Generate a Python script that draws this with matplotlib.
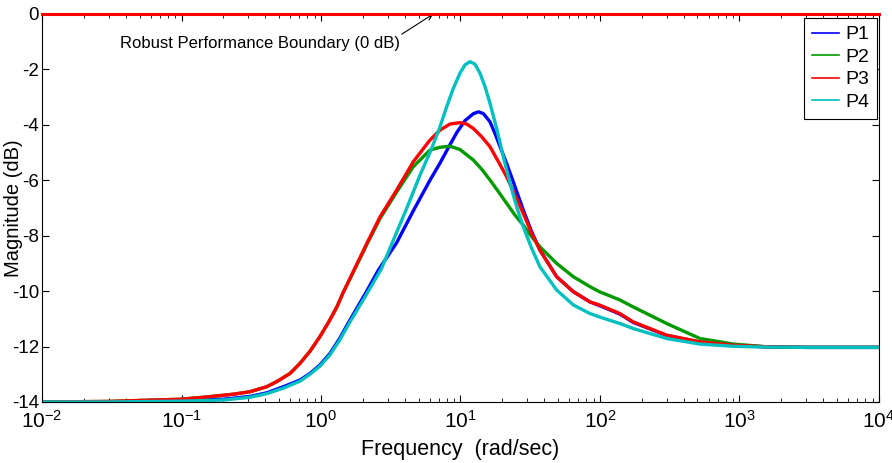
import numpy as np
import matplotlib
matplotlib.use("Agg")
import matplotlib.pyplot as plt
from matplotlib.lines import Line2D
from matplotlib.ticker import LogLocator, NullFormatter, FixedLocator

plt.rcParams['font.family'] = ['Liberation Sans', 'DejaVu Sans']
plt.rcParams['mathtext.fontset'] = 'custom'
plt.rcParams['mathtext.rm'] = 'Liberation Sans'
plt.rcParams['mathtext.it'] = 'Liberation Sans'

# Frequency (rad/sec) and magnitude (dB).
f_p1 = [0.01, 0.03, 0.1, 0.2, 0.31, 0.408, 0.537, 0.706, 0.834, 0.98, 1.16, 1.36, 1.61, 2.1, 2.58,
        3.49, 4.59, 6.04, 7.13, 8.19, 9.4, 10.76, 12.36, 13.42, 14.56, 16.27, 17.66, 21.4, 24.6,
        28.2, 32.4, 37.1, 48.9, 64.4, 84.8, 99, 139, 173, 301, 521, 903, 1570, 3000, 10000]
db_p1 = [-14, -14, -13.95, -13.9, -13.8, -13.67, -13.45, -13.21, -12.97, -12.67, -12.25, -11.71,
         -11.05, -10.05, -9.24, -8.25, -7.1, -6.0, -5.38, -4.82, -4.28, -3.85, -3.6, -3.53,
         -3.59, -3.89, -4.31, -5.39, -6.23, -7.08, -7.86, -8.52, -9.48, -10.02, -10.39, -10.52,
         -10.83, -11.13, -11.6, -11.84, -11.96, -12.01, -12.03, -12.03]

f_p2 = [0.01, 0.03, 0.1, 0.151, 0.235, 0.31, 0.408, 0.48, 0.6, 0.706, 0.834, 0.98, 1.128, 1.3,
        1.445, 1.61, 2.13, 2.65, 3.49, 4.59, 6.04, 7.13, 8.41, 9.91, 12.36, 14.19, 16.27, 18.7,
        21.4, 24.6, 28.2, 32.4, 37.1, 48.9, 64.4, 84.8, 99, 139, 173, 301, 521, 903, 1570, 3000,
        10000]
db_p2 = [-14, -13.98, -13.9, -13.82, -13.72, -13.63, -13.45, -13.27, -12.97, -12.61, -12.17, -11.65,
         -11.14, -10.57, -10.04, -9.57, -8.32, -7.38, -6.42, -5.51, -4.91, -4.81, -4.77, -4.89,
         -5.27, -5.6, -5.99, -6.41, -6.83, -7.26, -7.62, -8.04, -8.4, -9.0, -9.48, -9.84, -10.02,
         -10.32, -10.57, -11.17, -11.71, -11.91, -12.01, -12.03, -12.03]

f_p3 = [0.01, 0.03, 0.1, 0.151, 0.235, 0.31, 0.408, 0.48, 0.6, 0.706, 0.834, 0.98, 1.128, 1.3,
        1.445, 1.61, 2.13, 2.65, 3.49, 4.59, 6.04, 7.13, 8.41, 9.91, 11.07, 12.36, 14.19, 16.27,
        18.7, 21.4, 24.6, 28.2, 32.4, 37.1, 48.9, 64.4, 84.8, 99, 139, 173, 301, 521, 903, 1570,
        3000, 10000]
db_p3 = [-14, -13.98, -13.9, -13.82, -13.72, -13.63, -13.45, -13.27, -12.97, -12.61, -12.17, -11.65,
         -11.14, -10.57, -10.04, -9.55, -8.28, -7.32, -6.35, -5.33, -4.55, -4.19, -3.97, -3.92,
         -3.97, -4.13, -4.43, -4.79, -5.33, -5.87, -6.53, -7.2, -7.92, -8.52, -9.48, -10.02, -10.39,
         -10.5, -10.81, -11.11, -11.59, -11.83, -11.95, -12.01, -12.03, -12.03]

f_p4 = [0.01, 0.03, 0.1, 0.2, 0.31, 0.408, 0.537, 0.706, 0.834, 0.98, 1.16, 1.36, 1.61, 2.1, 2.72,
        3.30, 4.11, 5.13, 6.22, 7.13, 7.96, 8.89, 9.91, 10.76, 11.7, 12.7, 13.8, 14.99, 16.27,
        18.16, 20.28, 22.65, 25.29, 28.2, 32.4, 37.1, 48.9, 64.4, 84.8, 99, 139, 173, 301, 521,
        903, 1570, 3000, 10000]
db_p4 = [-14, -14, -13.97, -13.93, -13.83, -13.7, -13.5, -13.25, -13.0, -12.71, -12.3, -11.77,
         -11.12, -10.15, -9.18, -8.16, -7.02, -5.81, -4.85, -4.07, -3.35, -2.68, -2.14, -1.84,
         -1.72, -1.81, -2.14, -2.62, -3.22, -4.13, -5.15, -6.11, -6.96, -7.68, -8.46, -9.12, -9.96,
         -10.5, -10.81, -10.93, -11.17, -11.35, -11.71, -11.91, -11.99, -12.02, -12.03, -12.03]

series = [("P1", f_p1, db_p1, (0, 0, 1)),
          ("P2", f_p2, db_p2, (0, 0.6, 0)),
          ("P3", f_p3, db_p3, (1, 0, 0)),
          ("P4", f_p4, db_p4, (0, 0.75, 0.75))]

boundary_db = 0
y_ticks = [0, -2, -4, -6, -8, -10, -12, -14]
x_exponents = [-2, -1, 0, 1, 2, 3, 4]

fig = plt.figure(figsize=(8.92, 4.63), dpi=100)
ax = fig.add_axes([0.0471, 0.1318, 0.9383, 0.838])

for name, f, db, col in series:
    ax.semilogx(f, db, color=col, linewidth=2.4, solid_joinstyle='round')

# 0 dB robust performance boundary
ax.axhline(boundary_db, color=(1, 0, 0), linewidth=2.2, clip_on=False, zorder=5)

ax.text(0.0362, -1.06, "Robust Performance Boundary (0 dB)", fontsize=12,
        ha='left', va='center')
ax.annotate("", xy=(6.38, 0), xytext=(3.79, -0.73),
            arrowprops=dict(arrowstyle='->', lw=0.8, color='black', shrinkA=0, shrinkB=0))

ax.set_xlim(1e-2, 1e4)
ax.set_ylim(-14, 0)
ax.set_yticks(y_ticks)
ax.set_yticklabels([str(v) for v in y_ticks])
ax.xaxis.set_major_locator(FixedLocator([10.0 ** e for e in x_exponents]))
ax.set_xticklabels([r"$\mathdefault{10^{%d}}$" % e for e in x_exponents])
ax.xaxis.set_minor_locator(LogLocator(base=10, subs=np.arange(2, 10), numticks=20))
ax.xaxis.set_minor_formatter(NullFormatter())
ax.tick_params(which='both', direction='in', top=True, right=True)
ax.tick_params(which='major', length=5, width=0.8)
ax.tick_params(which='minor', length=3, width=0.6)
ax.tick_params(axis='y', labelsize=13.5, pad=2)
ax.tick_params(axis='x', labelsize=15, pad=6)

ax.set_xlabel("Frequency  (rad/sec)", fontsize=15.5)
ax.xaxis.set_label_coords(0.5, -0.095)
ax.set_ylabel("Magnitude (dB)", fontsize=14.5)
ax.yaxis.set_label_coords(-0.023, 0.5)

handles = [Line2D([], [], color=col, linewidth=1.2) for name, f, db, col in series]
leg = ax.legend(handles, [s[0] for s in series], loc='upper right', fontsize=14,
                fancybox=False, framealpha=1, edgecolor='black', handlelength=1.4,
                borderpad=0.4, labelspacing=0.25, handletextpad=0.3, borderaxespad=0,
                bbox_to_anchor=(0.9976, 0.9897))
leg.get_frame().set_linewidth(0.8)

fig.savefig("out.png", dpi=100)
